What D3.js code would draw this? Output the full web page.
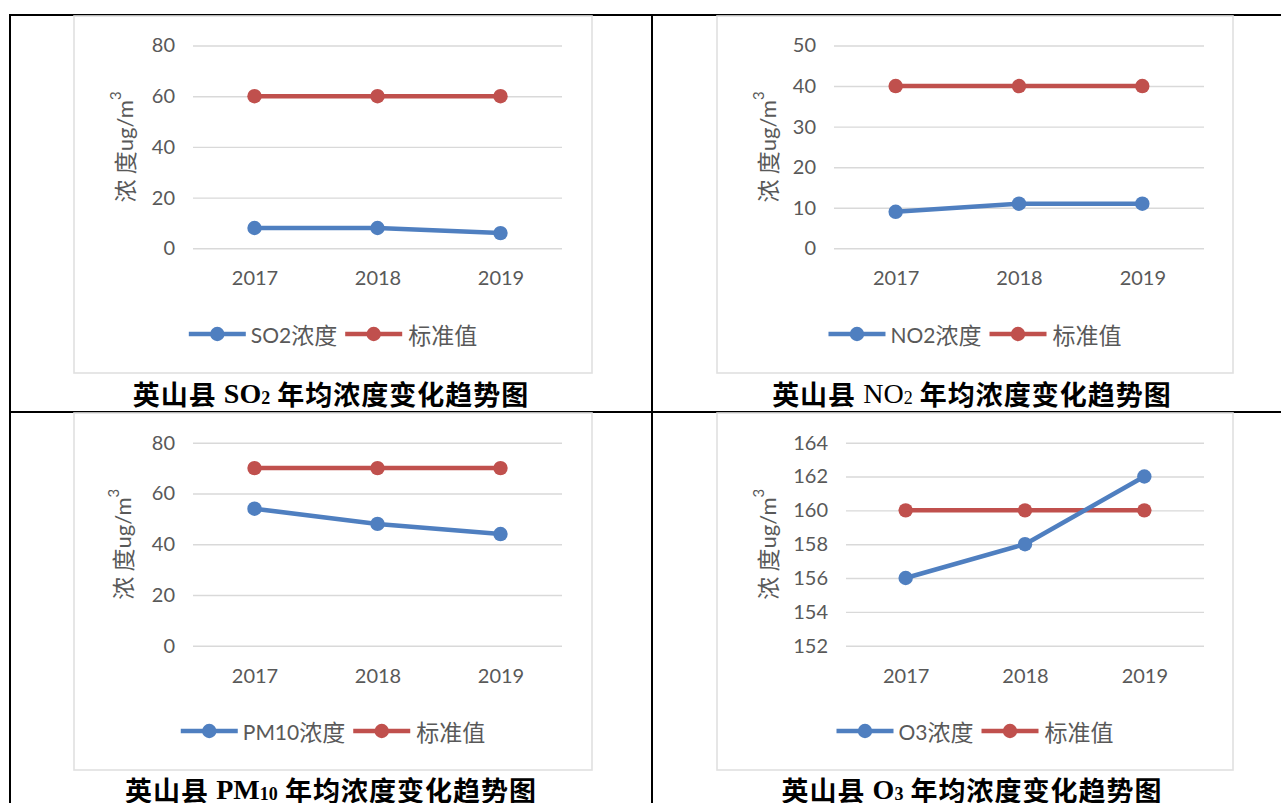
<!DOCTYPE html>
<html>
<head>
<meta charset="utf-8">
<script src="https://cdn.jsdelivr.net/npm/d3@7/dist/d3.min.js"></script>
<style>
  html, body { margin: 0; padding: 0; background: #fff; }
  svg { display: block; }
</style>
</head>
<body>
<svg id="chart" width="1281" height="803"></svg>
<script>
// ---------------- DATA ----------------
const years = ["2017", "2018", "2019"];

const so2Values = [8, 8, 6];
const so2Standard = [60, 60, 60];
const so2Ticks = [0, 20, 40, 60, 80];

const no2Values = [9, 11, 11];
const no2Standard = [40, 40, 40];
const no2Ticks = [0, 10, 20, 30, 40, 50];

const pm10Values = [54, 48, 44];
const pm10Standard = [70, 70, 70];
const pm10Ticks = [0, 20, 40, 60, 80];

const o3Values = [156, 158, 162];
const o3Standard = [160, 160, 160];
const o3Ticks = [152, 154, 156, 158, 160, 162, 164];

const seriesNames = ["SO2浓度", "NO2浓度", "PM10浓度", "O3浓度"];
const standardName = "标准值";
const yTitleMain = "浓 度";
const yTitleUnit = "ug/m";
const yTitleSup = "3";

const captionPrefix = "英山县";
const captionSuffix = "年均浓度变化趋势图";
const captionPollutants = [
  { main: "SO", sub: "2", bold: true },
  { main: "NO", sub: "2", bold: false },
  { main: "PM", sub: "10", bold: true },
  { main: "O", sub: "3", bold: true }
];

// ---------------- STYLE / LAYOUT ----------------
const BLUE = "#4f7fc0";
const RED = "#c0504d";
const GRID = "#d9d9d9";
const TEXT = "#595959";
const LATIN = "Lato, 'Noto Sans', sans-serif";
const CJK = "'Noto Sans CJK SC', sans-serif";

const panels = [
  { values: so2Values, std: so2Standard, ticks: so2Ticks, name: seriesNames[0], cap: captionPollutants[0],
    box: [74, 16, 592, 373], px: [193, 562], py: [45.5, 248.3], titleX: 124, capX: 331, capY: 393 },
  { values: no2Values, std: no2Standard, ticks: no2Ticks, name: seriesNames[1], cap: captionPollutants[1],
    box: [717, 16, 1233, 373], px: [834, 1204], py: [45.5, 248.3], titleX: 767, capX: 972, capY: 393 },
  { values: pm10Values, std: pm10Standard, ticks: pm10Ticks, name: seriesNames[2], cap: captionPollutants[2],
    box: [74, 413, 592, 770], px: [193, 562], py: [442.7, 645.7], titleX: 122, capX: 331, capY: 789 },
  { values: o3Values, std: o3Standard, ticks: o3Ticks, name: seriesNames[3], cap: captionPollutants[3],
    box: [717, 413, 1233, 770], px: [846, 1204], py: [442.7, 645.7], titleX: 767, capX: 972, capY: 789 }
];

const svg = d3.select("#chart");

// table lines
const tableLines = [
  [9, 15, 1281, 15],
  [9, 412, 1281, 412],
  [10, 14, 10, 803],
  [652, 14, 652, 803]
];
svg.append("g").selectAll("line").data(tableLines).join("line")
  .attr("x1", d => d[0]).attr("y1", d => d[1]).attr("x2", d => d[2]).attr("y2", d => d[3])
  .attr("stroke", "#000").attr("stroke-width", 2);

panels.forEach(p => {
  const g = svg.append("g");
  const [bx0, by0, bx1, by1] = p.box;
  g.append("rect").attr("x", bx0).attr("y", by0).attr("width", bx1 - bx0).attr("height", by1 - by0)
    .attr("fill", "#fff").attr("stroke", "#e0e0e0").attr("stroke-width", 1.6);

  const x = d3.scalePoint().domain(years).range(p.px).padding(0.5);
  const y = d3.scaleLinear().domain(d3.extent(p.ticks)).range([p.py[1], p.py[0]]);
  const width = p.px[1] - p.px[0];

  // y axis with gridlines
  const ya = g.append("g").attr("transform", `translate(${p.px[0]},0)`)
    .call(d3.axisLeft(y).tickValues(p.ticks).tickSize(-width).tickPadding(18).tickFormat(d3.format("d")));
  ya.select(".domain").remove();
  ya.selectAll(".tick line").attr("stroke", GRID).attr("stroke-width", 1.4);
  ya.selectAll(".tick text").attr("fill", TEXT).style("font-family", LATIN).style("font-size", "20px");

  // x axis labels
  const xa = g.append("g").attr("transform", `translate(0,${p.py[1]})`)
    .call(d3.axisBottom(x).tickSize(0).tickPadding(23));
  xa.select(".domain").remove();
  xa.selectAll(".tick text").attr("fill", TEXT).style("font-family", LATIN).style("font-size", "20px");

  // lines
  const line = d3.line().x((d, i) => x(years[i])).y(d => y(d));
  [[p.std, RED], [p.values, BLUE]].forEach(([vals, col]) => {
    g.append("path").datum(vals).attr("d", line).attr("fill", "none")
      .attr("stroke", col).attr("stroke-width", 4.5).attr("stroke-linejoin", "round");
    g.selectAll(null).data(vals).join("circle")
      .attr("cx", (d, i) => x(years[i])).attr("cy", d => y(d)).attr("r", 7.2).attr("fill", col);
  });

  // y title
  const tcy = (p.py[0] + p.py[1]) / 2;
  const yt = g.append("text").attr("transform", `translate(${p.titleX},${tcy}) rotate(-90)`)
    .attr("text-anchor", "middle").attr("dominant-baseline", "central").attr("fill", TEXT);
  yt.append("tspan").style("font-family", CJK).style("font-size", "23px").text(yTitleMain);
  yt.append("tspan").style("font-family", LATIN).style("font-size", "22px").text(yTitleUnit);
  yt.append("tspan").style("font-family", LATIN).style("font-size", "15px").attr("dy", -9).text(yTitleSup);

  // legend
  const ly = (p.py[0] === 45.5) ? 334 : 731;
  const lg = g.append("g");
  const t1 = lg.append("text").attr("fill", TEXT).attr("dominant-baseline", "central").attr("y", ly);
  const m = p.name.match(/^([A-Za-z0-9]+)(.*)$/);
  t1.append("tspan").style("font-family", LATIN).style("font-size", "21px").text(m[1]);
  t1.append("tspan").style("font-family", CJK).style("font-size", "23px").text(m[2]);
  const t2 = lg.append("text").attr("fill", TEXT).attr("dominant-baseline", "central").attr("y", ly)
    .style("font-family", CJK).style("font-size", "23px").text(standardName);
  const w1 = t1.node().getComputedTextLength();
  const w2 = t2.node().getComputedTextLength();
  const LL = 57, G1 = 5, G2 = 8, G3 = 6;
  const total = LL + G1 + w1 + G2 + LL + G3 + w2;
  let cx = (bx0 + bx1) / 2 - total / 2;
  const items = [
    { x: cx, col: BLUE },
    { x: cx + LL + G1 + w1 + G2, col: RED }
  ];
  t1.attr("x", cx + LL + G1);
  t2.attr("x", items[1].x + LL + G3);
  items.forEach(it => {
    lg.append("line").attr("x1", it.x).attr("x2", it.x + LL).attr("y1", ly).attr("y2", ly)
      .attr("stroke", it.col).attr("stroke-width", 4.5);
    lg.append("circle").attr("cx", it.x + LL / 2).attr("cy", ly).attr("r", 7.2).attr("fill", it.col);
  });

  // caption
  const cap = svg.append("text").attr("x", p.capX).attr("y", p.capY).attr("text-anchor", "middle")
    .attr("dominant-baseline", "central").attr("fill", "#000");
  cap.append("tspan").style("font-family", CJK).style("font-size", "27px").style("font-weight", 700)
    .style("letter-spacing", "1px").text(captionPrefix + " ");
  cap.append("tspan").style("font-family", "'Liberation Serif', serif").style("font-size", "28px")
    .style("font-weight", p.cap.bold ? 700 : 400).text(p.cap.main);
  cap.append("tspan").style("font-family", "'Liberation Serif', serif").style("font-size", "18px")
    .style("font-weight", p.cap.bold ? 700 : 400).attr("dy", 5).text(p.cap.sub);
  cap.append("tspan").style("font-family", CJK).style("font-size", "27px").style("font-weight", 700)
    .style("letter-spacing", "1px").attr("dy", -5).text(" " + captionSuffix);
});
</script>
</body>
</html>
